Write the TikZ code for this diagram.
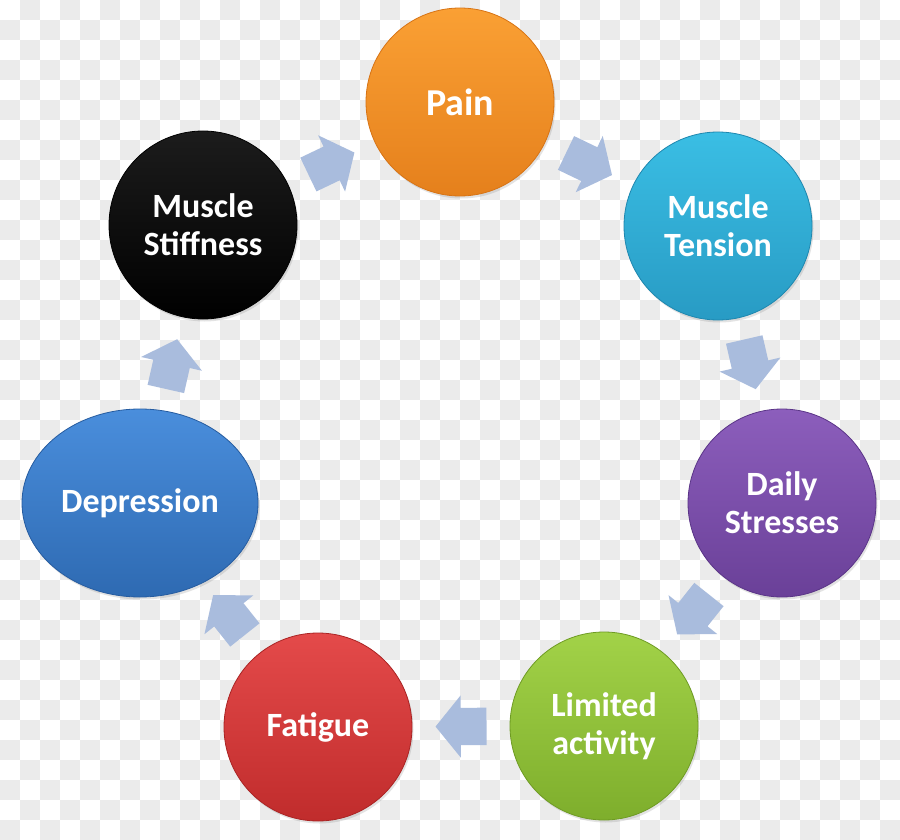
\documentclass[tikz,border=0pt]{standalone}
\usepackage{fontspec}
\setmainfont{Carlito}
\usetikzlibrary{shapes.geometric,shapes.arrows,shadows}
\definecolor{checkgray}{HTML}{EBEBEB}
\definecolor{arrowblue}{HTML}{A9BCDD}
\begin{document}
\begin{tikzpicture}[x=1pt,y=-1pt,
  bubble/.style={circle, minimum size=188pt, inner sep=0pt, align=center, text=white,
    font=\bfseries\fontsize{34}{38}\selectfont, line width=0.8pt,
    drop shadow={opacity=0.22, shadow xshift=1.5pt, shadow yshift=-2.5pt}},
  cyc/.style={single arrow, fill=arrowblue, draw=none, minimum height=51pt, minimum width=62pt,
    single arrow head extend=12.5pt, single arrow tip angle=102, inner xsep=0pt, inner ysep=18.5pt}
]
\useasboundingbox (0,0) rectangle (900,840);
\fill[white] (0,0) rectangle (900,840);
\foreach \j in {0,...,41}{
  \foreach \i in {0,...,44}{
    \pgfmathtruncatemacro\chkodd{mod(\i+\j,2)}
    \ifnum\chkodd=1 \fill[checkgray] (\i*20,\j*20) rectangle ++(20,20); \fi
  }
}
\node[bubble, top color={rgb,255:red,250;green,160;blue,52}, bottom color={rgb,255:red,229;green,128;blue,28}, draw={rgb,255:red,215;green,115;blue,20}, font=\bfseries\fontsize{38}{42}\selectfont] (pain) at (460,102) {Pain};
\node[bubble, top color={rgb,255:red,58;green,190;blue,228}, bottom color={rgb,255:red,40;green,155;blue,196}, draw={rgb,255:red,30;green,135;blue,175}] (tension) at (718,226) {Muscle\\Tension};
\node[bubble, top color={rgb,255:red,140;green,94;blue,188}, bottom color={rgb,255:red,106;green,64;blue,152}, draw={rgb,255:red,90;green,52;blue,135}] (daily) at (782,503) {Daily\\Stresses};
\node[bubble, top color={rgb,255:red,162;green,210;blue,72}, bottom color={rgb,255:red,126;green,174;blue,44}, draw={rgb,255:red,110;green,155;blue,35}] (limited) at (604,726) {Limited\\activity};
\node[bubble, top color={rgb,255:red,228;green,74;blue,74}, bottom color={rgb,255:red,192;green,44;blue,44}, draw={rgb,255:red,170;green,35;blue,35}] (fatigue) at (318,727) {Fatigue};
\node[bubble, ellipse, minimum width=236pt, minimum height=188pt, top color={rgb,255:red,74;green,142;blue,220}, bottom color={rgb,255:red,46;green,106;blue,178}, draw={rgb,255:red,38;green,92;blue,160}] (depression) at (140,503) {Depression};
\node[bubble, top color={rgb,255:red,28;green,28;blue,28}, bottom color=black, draw=black] (stiffness) at (203,225) {Muscle\\Stiffness};
\foreach \a/\b in {stiffness/pain, pain/tension, tension/daily, daily/limited, limited/fatigue, fatigue/depression, depression/stiffness}{
  \path (\a.center) -- (\b.center) node[cyc, pos=0.59, anchor=tip, sloped, allow upside down] {};
}
\end{tikzpicture}
\end{document}
